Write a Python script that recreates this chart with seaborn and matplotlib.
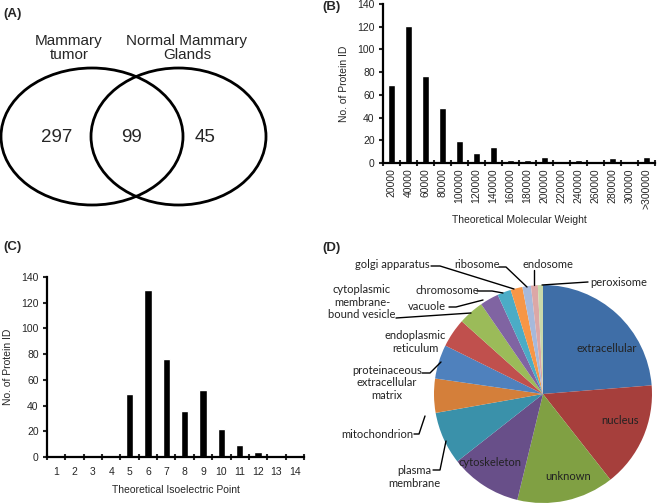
import matplotlib
matplotlib.use("Agg")
import matplotlib.pyplot as plt
from matplotlib.patches import Ellipse
import seaborn as sns
import pandas as pd

# ---------------- data ----------------
venn_labels = ["Mammary\ntumor", "Normal Mammary\nGlands"]
venn_counts = [297, 99, 45]

mw_categories = ["20000", "40000", "60000", "80000", "100000", "120000", "140000",
                 "160000", "180000", "200000", "220000", "240000", "260000",
                 "280000", "300000", ">300000"]
mw_counts = [69, 121, 77, 48, 19, 9, 14, 3, 3, 5, 1, 3, 1, 4, 1, 5]

pi_categories = [str(i) for i in range(1, 15)]
pi_counts = [0, 0, 0, 0, 49, 130, 76, 36, 52, 22, 9, 4, 0, 0]

loc_labels = ["extracellular", "nucleus", "unknown", "cytoskeleton", "plasma\nmembrane",
              "mitochondrion", "proteinaceous\nextracellular\nmatrix", "endoplasmic\nreticulum",
              "cytoplasmic\nmembrane-\nbound vesicle", "vacuole", "chromosome",
              "golgi apparatus", "ribosome", "endosome", "peroxisome"]
loc_counts = [94, 62, 57, 42, 31, 20, 20, 17, 15, 11, 8, 7, 5, 4, 3]
loc_colors = ["#3f6ea7", "#a63f3c", "#80a043", "#684f89", "#3a91aa", "#d47f3a",
              "#4f81bd", "#c0504d", "#9bbb59", "#8064a2", "#4bacc6", "#f79646",
              "#a6b9db", "#dca7a6", "#c9d9aa"]

sns.set_theme(style="white")
plt.rcParams["font.family"] = ["Liberation Sans", "DejaVu Sans"]

W, H = 658, 504
fig = plt.figure(figsize=(W / 100, H / 100), dpi=100)
fig.patch.set_facecolor("white")


def px_axes(x0, y0, x1, y1):
    return fig.add_axes([x0 / W, 1 - y1 / H, (x1 - x0) / W, (y1 - y0) / H])


# panel letters
for lab, x, y in [("(A)", 3, 14), ("(B)", 322, 7), ("(C)", 3, 247), ("(D)", 322, 248)]:
    fig.text(x / W, 1 - y / H, lab, fontsize=9.5, fontweight="bold", va="center", ha="left")

# ---------------- (A) Venn ----------------
axA = px_axes(0, 0, 330, 250)
axA.set_xlim(0, 330)
axA.set_ylim(250, 0)
axA.axis("off")
axA.add_patch(Ellipse((92, 136.5), 182, 137, fill=False, lw=2, ec="black"))
axA.add_patch(Ellipse((178.5, 136.5), 175, 137, fill=False, lw=2, ec="black"))
axA.text(69, 48, venn_labels[0], ha="center", va="center", fontsize=11, linespacing=1.0)
axA.text(187, 48, venn_labels[1], ha="center", va="center", fontsize=11, linespacing=1.0)
for v, x in zip(venn_counts, [57, 132, 205]):
    axA.text(x, 138, str(v), ha="center", va="center", fontsize=13.5)


def style_bar_axes(ax):
    for s in ["top", "right"]:
        ax.spines[s].set_visible(False)
    for s in ["left", "bottom"]:
        ax.spines[s].set_linewidth(1.6)
        ax.spines[s].set_color("black")
    ax.set_ylim(0, 140)
    ax.set_yticks(range(0, 141, 20))
    ax.tick_params(axis="y", direction="out", length=3, width=1.5, labelsize=7.5, pad=3, left=True)
    ax.grid(False)
    ax.set_facecolor("white")


# ---------------- (B) molecular weight ----------------
axB = px_axes(383, 4, 655, 163)
dfB = pd.DataFrame({"cat": mw_categories, "n": mw_counts})
sns.barplot(data=dfB, x="cat", y="n", color="black", width=0.42, ax=axB, saturation=1)
style_bar_axes(axB)
axB.set_xlim(-0.5, len(mw_categories) - 0.5)
axB.set_xticks(range(len(mw_categories)))
axB.set_xticklabels(mw_categories, rotation=90, fontsize=7.5)
axB.tick_params(axis="x", length=0, pad=4)
axB.set_xticks([i + 0.5 for i in range(-1, len(mw_categories))], minor=True)
axB.tick_params(axis="x", which="minor", direction="inout", length=4, width=1.5, bottom=True)
axB.set_xlabel("Theoretical Molecular Weight", fontsize=7.5, labelpad=4)
axB.set_ylabel("No. of Protein ID", fontsize=7.5, labelpad=6)

# ---------------- (C) isoelectric point ----------------
axC = px_axes(47, 277, 304, 457)
dfC = pd.DataFrame({"cat": pi_categories, "n": pi_counts})
sns.barplot(data=dfC, x="cat", y="n", color="black", width=0.4, ax=axC, saturation=1)
style_bar_axes(axC)
axC.set_xlim(-0.5, len(pi_categories) - 0.5)
axC.set_xticks(range(len(pi_categories)))
axC.set_xticklabels(pi_categories, fontsize=7.5)
axC.tick_params(axis="x", length=0, pad=7)
axC.set_xticks([i + 0.5 for i in range(-1, len(pi_categories))], minor=True)
axC.tick_params(axis="x", which="minor", direction="inout", length=4, width=1.5, bottom=True)
axC.set_xlabel("Theoretical Isoelectric Point", fontsize=7.5, labelpad=6)
axC.set_ylabel("No. of Protein ID", fontsize=7.5, labelpad=6)

# ---------------- (D) pie ----------------
axD = px_axes(330, 250, 658, 504)
cx, cy, r = 543, 504 - 394, 109
axD.pie(loc_counts, colors=loc_colors, startangle=90, counterclock=False,
        center=(cx, cy), radius=r, wedgeprops=dict(linewidth=0), frame=True)
axD.set_xlim(330, 658)
axD.set_ylim(0, 254)
axD.axis("off")

pie_font = dict(family=["Lato", "DejaVu Sans"], fontsize=8, color="#222222")


def ty(y):
    return 504 - y

# inside labels
for lab, x, y in [("extracellular", 607, 348), ("nucleus", 620, 421),
                  ("unknown", 568, 476), ("cytoskeleton", 490, 463)]:
    axD.text(x, ty(y), lab, ha="center", va="center", **pie_font)

# outside labels: (label index, text x, text y, ha, leader polyline)
outside = [
    (4, 414, 477, "center", [(433, 470), (440, 470), (446, 441)]),
    (5, 413, 434, "right", [(414, 434), (419, 434), (425, 416)]),
    (6, 387, 383, "center", [(422, 373), (430, 373), (441, 362)]),
    (7, 415, 342, "center", None),
    (8, 362, 302, "center", [(396, 318), (471, 313)]),
    (9, 427, 306, "center", [(449, 307), (456, 307), (483, 300)]),
    (10, 447, 290, "center", [(477, 291), (492, 291), (503, 293)]),
    (11, 392, 265, "center", [(431, 266), (440, 266), (514, 289)]),
    (12, 477, 265, "center", [(499, 267), (506, 267), (527, 287)]),
    (13, 548, 265, "center", [(534, 270), (534, 285)]),
    (14, 619, 282, "center", [(588, 282), (542, 285)]),
]
for idx, x, y, ha, line in outside:
    axD.text(x, ty(y), loc_labels[idx], ha=ha, va="center", linespacing=1.15, **pie_font)
    if line:
        xs = [p[0] for p in line]
        ys = [ty(p[1]) for p in line]
        axD.plot(xs, ys, color="black", lw=1)

fig.savefig("out.png", dpi=100, facecolor="white")
